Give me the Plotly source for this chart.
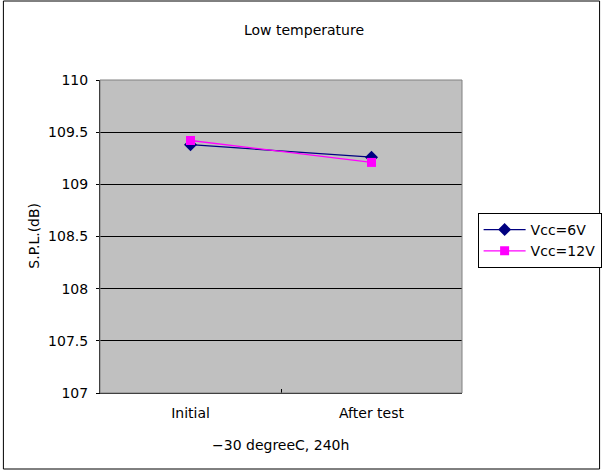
import plotly.graph_objects as go

categories = ["Initial", "After test"]
vcc6 = [109.38, 109.26]
vcc12 = [109.42, 109.21]
series_names = ["Vcc=6V", "Vcc=12V"]
y_ticks = [107, 107.5, 108, 108.5, 109, 109.5, 110]

W, H = 614, 471
L, R, T, B = 100, 143, 80, 78
pw, ph = W - L - R, H - T - B

def px_x(p):
    return (p - L) / pw

def px_y(p):
    return (H - B - p) / ph

FONT = "DejaVu Sans"

fig = go.Figure()
fig.add_trace(go.Scatter(
    x=categories, y=vcc6, name=series_names[0], mode="lines+markers",
    line=dict(color="#000080", width=1.3),
    marker=dict(symbol="diamond", size=10, color="#000080"),
))
fig.add_trace(go.Scatter(
    x=categories, y=vcc12, name=series_names[1], mode="lines+markers",
    line=dict(color="#FF00FF", width=1.3),
    marker=dict(symbol="square", size=9, color="#FF00FF"),
))

fig.update_layout(
    width=W, height=H, autosize=False,
    margin=dict(l=L, r=R, t=T, b=B, pad=0),
    paper_bgcolor="white",
    plot_bgcolor="#C0C0C0",
    font=dict(family=FONT, size=14, color="black"),
    showlegend=True,
    legend=dict(
        x=px_x(487), y=px_y(213), xanchor="left", yanchor="top",
        bgcolor="white", bordercolor="black", borderwidth=1,
        font=dict(family=FONT, size=14, color="black"),
        tracegroupgap=0, itemwidth=42,
    ),
    xaxis=dict(
        type="category", range=[-0.5, 1.5],
        tickson="boundaries", ticks="inside", ticklen=4, tickcolor="black",
        showline=True, linecolor="black", linewidth=1,
        showgrid=False, zeroline=False, ticklabelstandoff=7,
        tickfont=dict(family=FONT, size=14),
    ),
    yaxis=dict(
        range=[107, 110], tickvals=y_ticks,
        ticks="outside", ticklen=3, tickcolor="black",
        showline=True, linecolor="black", linewidth=1,
        showgrid=True, gridcolor="black", gridwidth=1,
        zeroline=False, ticklabelstandoff=5,
        tickfont=dict(family=FONT, size=14),
    ),
    shapes=[
        dict(type="rect", xref="paper", yref="paper", x0=0, x1=1, y0=0, y1=1,
             line=dict(color="#808080", width=1), layer="above"),
        dict(type="rect", xref="paper", yref="paper",
             x0=px_x(1), x1=px_x(612), y0=px_y(469), y1=px_y(1),
             line=dict(color="black", width=1), layer="below"),
    ],
    annotations=[
        dict(text="Low temperature", xref="paper", yref="paper",
             x=px_x(309), y=px_y(30), showarrow=False,
             xanchor="center", yanchor="middle", font=dict(size=14)),
        dict(text="S.P.L.(dB)", xref="paper", yref="paper",
             x=px_x(32), y=px_y(236), showarrow=False, textangle=-90,
             xanchor="center", yanchor="middle", font=dict(size=14)),
        dict(text="\u221230 degreeC, 240h", xref="paper", yref="paper",
             x=px_x(285), y=px_y(445), showarrow=False,
             xanchor="center", yanchor="middle", font=dict(size=14)),
    ],
)

fig.write_html(
    "out.html",
    config=dict(displayModeBar=False, responsive=False),
    post_script="document.body.style.margin='0';",
)
